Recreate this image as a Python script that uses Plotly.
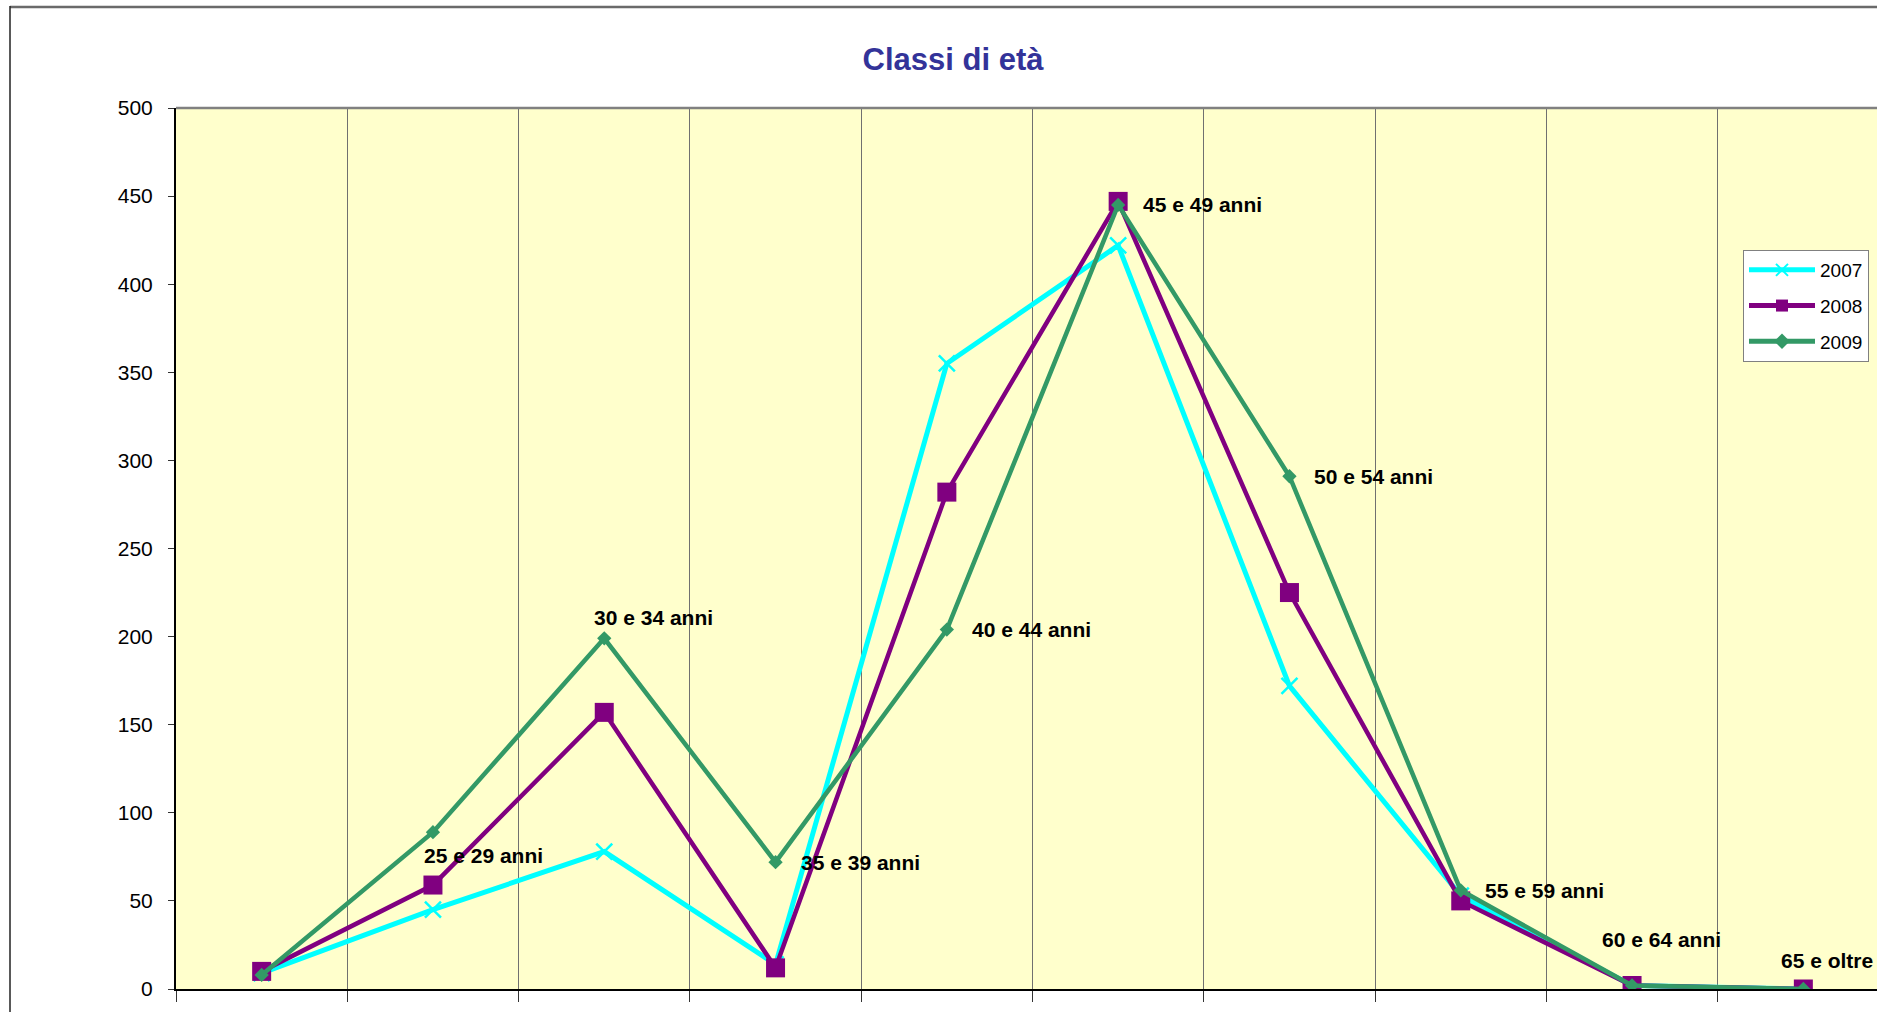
import plotly.graph_objects as go

categories = ["fino a 24 anni", "25 e 29 anni", "30 e 34 anni", "35 e 39 anni",
              "40 e 44 anni", "45 e 49 anni", "50 e 54 anni", "55 e 59 anni",
              "60 e 64 anni", "65 e oltre"]
v2007 = [9, 45, 78, 14, 355, 422, 172, 53, 2, 0]
v2008 = [10, 59, 157, 12, 282, 447, 225, 50, 2, 0]
v2009 = [8, 89, 199, 72, 204, 445, 291, 56, 2, 0]
series_names = ["2007", "2008", "2009"]
y_ticks = [0, 50, 100, 150, 200, 250, 300, 350, 400, 450, 500]

FONT = "Arial, Liberation Sans, sans-serif"
W, H = 1877, 1012
L, R, T, B = 176, 0, 108, 23
PW, PH = W - L - R, H - T - B

fig = go.Figure()
styles = [
    dict(color="#00FFFF", width=5, symbol="x-thin", size=16, mline=2.5),
    dict(color="#800080", width=4.5, symbol="square", size=19, mline=0),
    dict(color="#339966", width=4.5, symbol="diamond", size=11, mline=0),
]
for name, vals, st in zip(series_names, [v2007, v2008, v2009], styles):
    fig.add_trace(go.Scatter(
        x=categories, y=vals, name=name, mode="lines+markers",
        line=dict(color=st["color"], width=st["width"]),
        marker=dict(symbol=st["symbol"], size=st["size"], color=st["color"],
                    line=dict(color=st["color"], width=st["mline"])),
        legendgroup=name,
    ))

# data labels (category names) placed next to the 2009 points
label_offsets = [None, (-11, -23), (-12, 21), (23, 0), (23, 0), (23, 0),
                 (23, 0), (22, 0), (-32, 46), (-24, 29)]
for cat, val, off in zip(categories, v2009, label_offsets):
    if off is None:
        continue
    fig.add_annotation(x=cat, y=val, text="<b>%s</b>" % cat, showarrow=False,
                       xanchor="left", yanchor="middle", xshift=off[0], yshift=off[1],
                       font=dict(family=FONT, size=21, color="black"))

def px_x(p):
    return (p - L) / PW

def px_y(p):
    return (H - B - p) / PH

# outer chart border (top and left edges visible)
fig.add_shape(type="line", xref="paper", yref="paper", x0=px_x(10), x1=px_x(1880),
              y0=px_y(7), y1=px_y(7), line=dict(color="#6a6a6a", width=2.5))
fig.add_shape(type="line", xref="paper", yref="paper", x0=px_x(10), x1=px_x(10),
              y0=px_y(6), y1=px_y(1015), line=dict(color="#222222", width=1.5))
# plot area top border
fig.add_shape(type="line", xref="paper", yref="paper", x0=0, x1=1, y0=1, y1=1,
              line=dict(color="#808080", width=2.5))

fig.update_layout(
    width=W, height=H,
    margin=dict(l=L, r=R, t=T, b=B, pad=0),
    paper_bgcolor="white", plot_bgcolor="#FFFFCC",
    title=dict(text="<b>Classi di età</b>", font=dict(family=FONT, size=31, color="#333399"),
               xref="container", x=953 / W, xanchor="center",
               yref="container", y=1 - 59 / H, yanchor="middle"),
    showlegend=True,
    legend=dict(x=px_x(1743), y=px_y(250), xanchor="left", yanchor="top",
                bgcolor="white", bordercolor="#808080", borderwidth=1,
                font=dict(family=FONT, size=19, color="black"),
                tracegroupgap=8, itemsizing="constant", itemwidth=66),
    font=dict(family=FONT, color="black"),
)
fig.update_xaxes(type="category", range=[-0.5, -0.5 + PW / 171.3],
                 showticklabels=False, tickson="boundaries", ticks="outside",
                 ticklen=11, tickcolor="#333333", tickwidth=1,
                 showgrid=True, gridcolor="#707070", gridwidth=1,
                 showline=True, linecolor="black", linewidth=2, zeroline=False)
fig.update_yaxes(range=[0, 500], tickvals=y_ticks, ticks="outside", ticklen=6,
                 tickcolor="#333333", tickwidth=1, showgrid=False, zeroline=False,
                 showline=True, linecolor="black", linewidth=2, ticklabelstandoff=11,
                 tickfont=dict(family=FONT, size=21, color="black"))

fig.write_html("out.html", config={"displayModeBar": False},
               post_script="document.body.style.margin='0px';document.body.style.overflow='hidden';")
